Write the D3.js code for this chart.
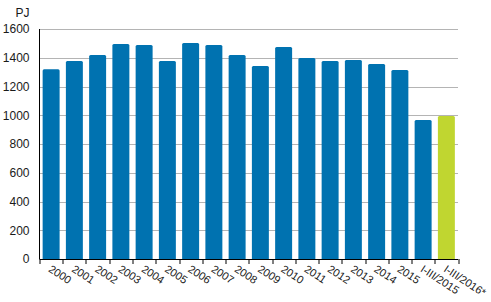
<!DOCTYPE html>
<html lang="en">
<meta charset="utf-8">
<head>
    <title>PJ by year</title>
    <script type="text/javascript" src="https://d3js.org/d3.v7.min.js"></script>
    <style>
        body {
            margin: 0;
            background-color: #fff;
            font-family: Arial, "Liberation Sans", sans-serif;
        }
        .grid line {
            stroke: #b4b4b4;
            stroke-width: 1px;
        }
        text {
            fill: #1a1a1a;
        }
    </style>
</head>
<body>
    <script>
        // Data
        const categories = ["2000", "2001", "2002", "2003", "2004", "2005", "2006", "2007", "2008",
            "2009", "2010", "2011", "2012", "2013", "2014", "2015", "I-III/2015", "I-III/2016*"];
        const values = [1320, 1377, 1419, 1496, 1489, 1377, 1503, 1489, 1419,
            1343, 1475, 1398, 1377, 1384, 1357, 1315, 967, 995];
        const highlighted = ["I-III/2016*"];
        const yTicks = [0, 200, 400, 600, 800, 1000, 1200, 1400, 1600];
        const unitLabel = "PJ";

        const margin = { top: 29, right: 33, bottom: 43, left: 39.5 },
            width = 491 - margin.left - margin.right,
            height = 302 - margin.top - margin.bottom;

        const svg = d3.select("body")
            .append("svg")
            .attr("width", 491)
            .attr("height", 302)
            .append("g")
            .attr("transform", `translate(${margin.left},${margin.top})`);

        const x = d3.scaleBand()
            .domain(categories)
            .range([0, width])
            .paddingInner(0.27)
            .paddingOuter(0.135);

        const y = d3.scaleLinear()
            .domain([0, 1600])
            .range([height, 0]);

        // Gridlines
        svg.append("g")
            .attr("class", "grid")
            .selectAll("line")
            .data(yTicks.filter(d => d > 0))
            .enter()
            .append("line")
            .attr("x1", 0)
            .attr("x2", width)
            .attr("y1", d => Math.round(y(d)) + 0.5)
            .attr("y2", d => Math.round(y(d)) + 0.5);

        // Y tick labels
        svg.append("g")
            .selectAll("text")
            .data(yTicks)
            .enter()
            .append("text")
            .attr("x", -10)
            .attr("y", d => y(d))
            .attr("dy", "0.36em")
            .attr("text-anchor", "end")
            .style("font-size", "12px")
            .text(d => d);

        svg.append("text")
            .attr("x", -10)
            .attr("y", -12)
            .attr("text-anchor", "end")
            .style("font-size", "12px")
            .text(unitLabel);

        // Bars with slightly rounded tops
        const r = 1.5;
        svg.append("g")
            .selectAll("path")
            .data(categories)
            .enter()
            .append("path")
            .attr("fill", (d) => highlighted.includes(d) ? "#c0d630" : "#0072b0")
            .attr("d", (d, i) => {
                const x0 = x(d), w = x.bandwidth(), y0 = y(values[i]), y1 = y(0);
                return `M${x0},${y1}V${y0 + r}Q${x0},${y0} ${x0 + r},${y0}` +
                    `H${x0 + w - r}Q${x0 + w},${y0} ${x0 + w},${y0 + r}V${y1}Z`;
            });

        // Y axis line
        svg.append("line")
            .attr("x1", 0).attr("x2", 0)
            .attr("y1", 0).attr("y2", height)
            .attr("stroke", "#000");

        // X axis line with ticks at band boundaries
        const step = x.step();
        const x0 = x(categories[0]) - x.paddingOuter() * step;
        const boundaries = d3.range(categories.length + 1).map(i => x0 + i * (width / categories.length));
        svg.append("line")
            .attr("x1", 0).attr("x2", width)
            .attr("y1", height + 0.5).attr("y2", height + 0.5)
            .attr("stroke", "#000");
        svg.append("g")
            .selectAll("line")
            .data(boundaries)
            .enter()
            .append("line")
            .attr("x1", d => Math.round(d) + 0.5)
            .attr("x2", d => Math.round(d) + 0.5)
            .attr("y1", height)
            .attr("y2", height + 5)
            .attr("stroke", "#000");

        // Rotated category labels
        svg.append("g")
            .selectAll("text")
            .data(categories)
            .enter()
            .append("text")
            .attr("transform", d => `translate(${x(d) + x.bandwidth() / 2 + 1},${height + 5}) rotate(33)`)
            .attr("dy", "0.75em")
            .attr("text-anchor", "start")
            .style("font-size", "11px")
            .text(d => d);
    </script>
</body>
</html>
